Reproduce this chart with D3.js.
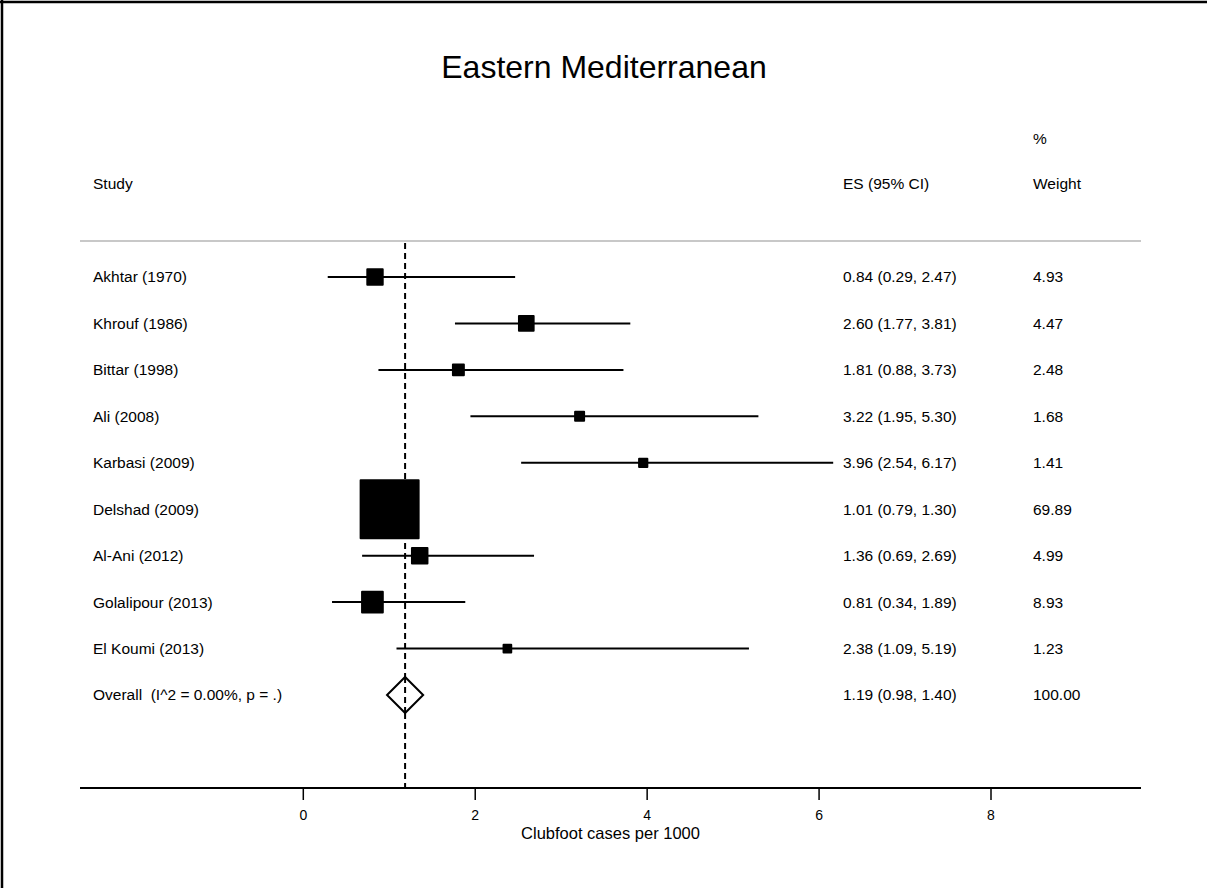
<!DOCTYPE html>
<html>
<head>
<meta charset="utf-8">
<script src="https://cdn.jsdelivr.net/npm/d3@7"></script>
<style>
  html, body { margin: 0; padding: 0; background: #fff; overflow: hidden; }
  svg { display: block; }
  text { font-family: "Liberation Sans", Arial, sans-serif; fill: #000; white-space: pre; }
</style>
</head>
<body>
<div id="chart"></div>
<script>
// Study data
const studies = ["Akhtar (1970)", "Khrouf (1986)", "Bittar (1998)", "Ali (2008)", "Karbasi (2009)",
                 "Delshad (2009)", "Al-Ani (2012)", "Golalipour (2013)", "El Koumi (2013)"];
const es    = [0.84, 2.60, 1.81, 3.22, 3.96, 1.01, 1.36, 0.81, 2.38];
const lower = [0.29, 1.77, 0.88, 1.95, 2.54, 0.79, 0.69, 0.34, 1.09];
const upper = [2.47, 3.81, 3.73, 5.30, 6.17, 1.30, 2.69, 1.89, 5.19];
const weights = [4.93, 4.47, 2.48, 1.68, 1.41, 69.89, 4.99, 8.93, 1.23];

const overallLabel = "Overall  (I^2 = 0.00%, p = .)";
const overall = { es: 1.19, lo: 0.98, hi: 1.40, w: 100.00 };

const xTicks = [0, 2, 4, 6, 8];
const fmt = d3.format(".2f");

const W = 1208, H = 888;
const fs = "15.5px";
const svg = d3.select("#chart").append("svg")
    .attr("width", W).attr("height", H);

// frame: black top and left edges only
svg.append("line").attr("x1", 0).attr("x2", W - 1).attr("y1", 2).attr("y2", 2)
    .attr("stroke", "#000").attr("stroke-width", 2.5);
svg.append("line").attr("x1", 2).attr("x2", 2).attr("y1", 0).attr("y2", H)
    .attr("stroke", "#000").attr("stroke-width", 2.5);

// title
svg.append("text").attr("x", 604).attr("y", 78)
    .attr("text-anchor", "middle").style("font-size", "32px")
    .text("Eastern Mediterranean");

// scales
const plotL = 80, plotR = 1141;
const x = d3.scaleLinear().domain([0, 8]).range([302.8, 990.5]);
const rows = studies.concat([overallLabel]);
const y = d3.scalePoint().domain(d3.range(rows.length)).range([277, 695]);
const boxSize = d3.scaleSqrt().domain([0, d3.max(weights)]).range([0, 58]);

// headers
const colES = 843, colW = 1033;
svg.append("text").attr("x", 93).attr("y", 189).style("font-size", fs).text("Study");
svg.append("text").attr("x", colES).attr("y", 189).style("font-size", fs).text("ES (95% CI)");
svg.append("text").attr("x", colW).attr("y", 144).style("font-size", fs).text("%");
svg.append("text").attr("x", colW).attr("y", 189).style("font-size", fs).text("Weight");

// separator
svg.append("line").attr("x1", plotL).attr("x2", plotR).attr("y1", 241).attr("y2", 241)
    .attr("stroke", "#c8c8c8").attr("stroke-width", 2);

// overall effect reference line
svg.append("line")
    .attr("x1", x(overall.es)).attr("x2", x(overall.es))
    .attr("y1", 243).attr("y2", 788)
    .attr("stroke", "#000").attr("stroke-width", 2)
    .attr("stroke-dasharray", "6,4");

// study rows
const g = svg.append("g");
studies.forEach((s, i) => {
    const yy = y(i);
    g.append("text").attr("x", 93).attr("y", yy).attr("dy", "0.35em")
        .style("font-size", fs).text(s);
    g.append("line").attr("x1", x(lower[i])).attr("x2", x(upper[i]))
        .attr("y1", yy).attr("y2", yy).attr("stroke", "#000").attr("stroke-width", 2);
    const b = boxSize(weights[i]);
    g.append("rect").attr("x", x(es[i]) - b / 2).attr("y", yy - b / 2)
        .attr("width", b).attr("height", b)
        .attr("fill", "#000").attr("stroke", "#000").attr("stroke-width", 2)
        .attr("stroke-linejoin", "round");
    g.append("text").attr("x", colES).attr("y", yy).attr("dy", "0.35em")
        .style("font-size", fs)
        .text(`${fmt(es[i])} (${fmt(lower[i])}, ${fmt(upper[i])})`);
    g.append("text").attr("x", colW).attr("y", yy).attr("dy", "0.35em")
        .style("font-size", fs).text(fmt(weights[i]));
});

// overall row
const yo = y(rows.length - 1);
g.append("text").attr("x", 93).attr("y", yo).attr("dy", "0.35em")
    .style("font-size", fs).text(overallLabel);
g.append("path")
    .attr("d", `M${x(overall.lo)},${yo} L${x(overall.es)},${yo - 18} L${x(overall.hi)},${yo} L${x(overall.es)},${yo + 18} Z`)
    .attr("fill", "#fff").attr("stroke", "#000").attr("stroke-width", 2);
svg.append("line")
    .attr("x1", x(overall.es)).attr("x2", x(overall.es))
    .attr("y1", yo - 18).attr("y2", yo + 18)
    .attr("stroke", "#000").attr("stroke-width", 2)
    .attr("stroke-dasharray", "6,4");
g.append("text").attr("x", colES).attr("y", yo).attr("dy", "0.35em")
    .style("font-size", fs)
    .text(`${fmt(overall.es)} (${fmt(overall.lo)}, ${fmt(overall.hi)})`);
g.append("text").attr("x", colW).attr("y", yo).attr("dy", "0.35em")
    .style("font-size", fs).text(fmt(overall.w));

// x axis
const axisG = svg.append("g").attr("transform", "translate(0,788)");
axisG.append("line").attr("x1", plotL).attr("x2", plotR)
    .attr("stroke", "#000").attr("stroke-width", 2);
axisG.call(d3.axisBottom(x).tickValues(xTicks).tickSize(12).tickPadding(10))
    .call(a => a.select(".domain").remove())
    .call(a => a.selectAll(".tick line").attr("stroke", "#000").attr("stroke-width", 1.5))
    .call(a => a.selectAll(".tick text").style("font-size", "14px")
        .style("font-family", "Liberation Sans, Arial, sans-serif").attr("fill", "#000"));

svg.append("text").attr("x", (plotL + plotR) / 2).attr("y", 839)
    .attr("text-anchor", "middle").style("font-size", "16.5px")
    .text("Clubfoot cases per 1000");
</script>
</body>
</html>
